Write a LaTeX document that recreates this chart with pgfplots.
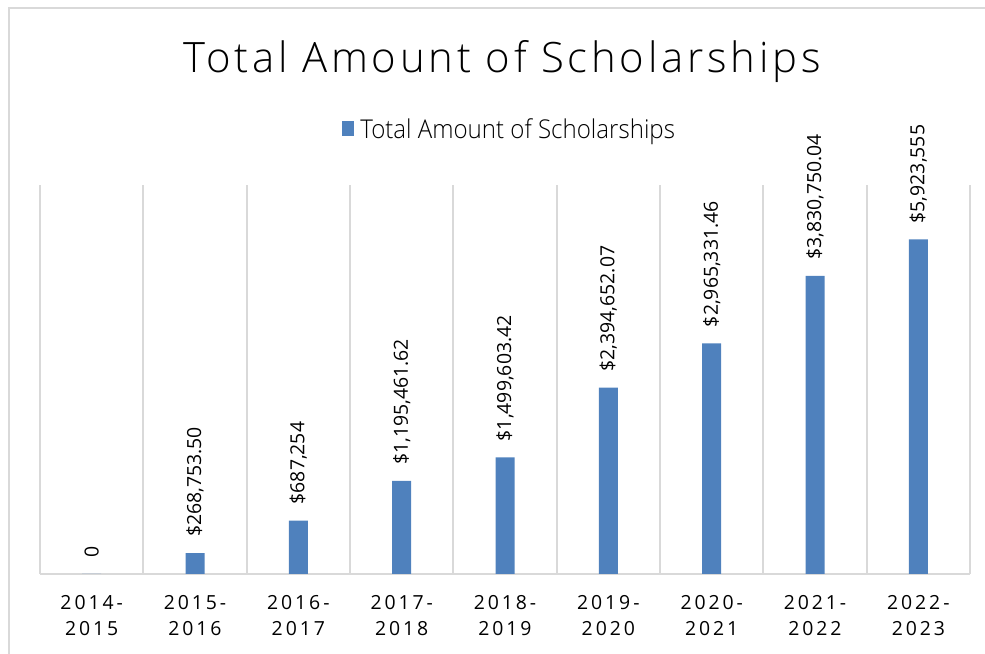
\documentclass[border=0pt]{standalone}
\usepackage{pgfplots}
\pgfplotsset{compat=1.18}
\usepackage{pgfplotstable}
\usepackage{fontspec}
\setmainfont{Open Sans}
\newfontfamily\titlefont{Open Sans Light}[LetterSpace=9]
\newfontfamily\legfont{Open Sans Light}[FakeStretch=0.93]
\newfontfamily\tickfont{Open Sans}[LetterSpace=15]
\definecolor{barblue}{HTML}{4F81BD}
\definecolor{gridgray}{HTML}{D9D9D9}

% bar heights as drawn; the last bar is drawn shorter than its label says
\pgfplotstableread[col sep=semicolon,row sep=\\]{
x;y;label\\
0;0;0\\
1;268753.50;\$268,753.50\\
2;687254;\$687,254\\
3;1195461.62;\$1,195,461.62\\
4;1499603.42;\$1,499,603.42\\
5;2394652.07;\$2,394,652.07\\
6;2965331.46;\$2,965,331.46\\
7;3830750.04;\$3,830,750.04\\
8;4300000;\$5,923,555\\
}\scholtable

\begin{document}
\begin{tikzpicture}
\path[use as bounding box] (0,0) rectangle (985bp,654bp);
\draw[gridgray, line width=2.5bp] (9bp,0) -- (9bp,646bp) -- (985bp,646bp);
\node[font=\titlefont\fontsize{42}{50}\selectfont, anchor=base] at (502bp,581bp) {Total Amount of Scholarships};
\begin{axis}[
  at={(40bp,80bp)}, anchor=south west,
  width=930bp, height=389bp, scale only axis,
  xmin=-0.5, xmax=8.5, ymin=0, ymax=5000000,
  ybar, bar width=19bp,
  axis x line*=bottom, axis y line=none,
  x axis line style={gridgray, line width=2bp, -},
  ytick=\empty,
  xtick={0,...,8},
  xticklabels={{2014-\\2015},{2015-\\2016},{2016-\\2017},{2017-\\2018},{2018-\\2019},{2019-\\2020},{2020-\\2021},{2021-\\2022},{2022-\\2023}},
  xticklabel style={align=center, font=\tickfont\fontsize{19.5}{26.5}\selectfont, inner sep=0pt, yshift=-21bp},
  major tick length=0pt, minor tick length=0pt,
  minor xtick={-0.5,0.5,...,8.5},
  xminorgrids,
  minor grid style={gridgray, line width=2bp},
  nodes near coords,
  point meta=explicit symbolic,
  nodes near coords style={rotate=90, anchor=west, font=\fontsize{19.5}{22}\selectfont, inner xsep=16bp, inner ysep=0pt},
  legend style={at={(0.505,1.144)}, anchor=center, draw=none, fill=none, font=\legfont\fontsize{26}{28}\selectfont, inner sep=0pt},
  legend image code/.code={\fill[barblue] (0bp,-7bp) rectangle (12bp,8bp); \path (16bp,0bp);},
  clip=false,
]
\addplot[fill=barblue, draw=none] table[x=x, y=y, meta=label] {\scholtable};
\addlegendentry{Total Amount of Scholarships}
\end{axis}
\end{tikzpicture}
\end{document}
